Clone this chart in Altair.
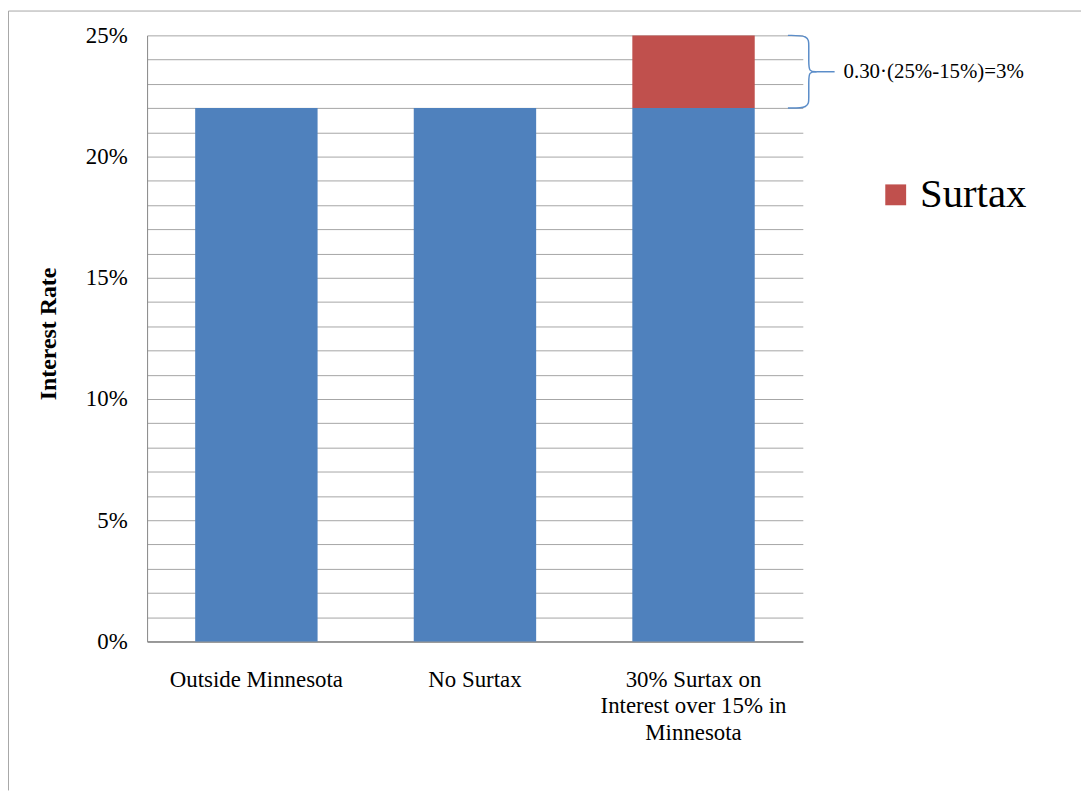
import altair as alt
import pandas as pd

# ---- data ----
categories = ["Outside Minnesota", "No Surtax", "30% Surtax on|Interest over 15% in|Minnesota"]
base_rate = [22, 22, 22]
surtax = [0, 0, 3]
y_ticks = list(range(0, 26))
annotation_text = "0.30·(25%-15%)=3%"
annotation_y = 23.5

# brace shape (x offsets in px-like units, y in % units)
brace_part = ["top"] * 6 + ["bottom"] * 6 + ["tip"] * 2
brace_x = [0, 21, 21, 21, 21, 29, 0, 21, 21, 21, 21, 29, 29, 47]
brace_y = [25.0, 25.0, 24.6, 23.9, 23.5, 23.5, 22.0, 22.0, 22.4, 23.1, 23.5, 23.5, 23.5, 23.5]

BLUE = "#4F81BD"
RED = "#C0504D"
FONT = "Liberation Serif"

rows = []
for c, b, s in zip(categories, base_rate, surtax):
    rows.append({"cat": c, "seg": "Base", "start": 0, "end": b})
    if s > 0:
        rows.append({"cat": c, "seg": "Surtax", "start": b, "end": b + s})
df = pd.DataFrame(rows)

brace_df = pd.DataFrame({
    "part": brace_part,
    "bx": brace_x,
    "by": brace_y,
    "ord": list(range(len(brace_x))),
})

yscale = alt.Scale(domain=[0, 25], nice=False, zero=True)

bars = alt.Chart(df).mark_bar().encode(
    x=alt.X(
        "cat:N",
        sort=categories,
        scale=alt.Scale(paddingInner=0.44, paddingOuter=0.22),
        axis=alt.Axis(
            title=None,
            labelAngle=0,
            labelExpr="split(datum.label, '|')",
            labelFont=FONT,
            labelFontSize=23,
            labelColor="#000000",
            labelLineHeight=27,
            labelPadding=27,
            labelBaseline="top",
            labelLimit=400,
            labelOverlap=False,
            ticks=False,
            domainColor="#868686",
            domainWidth=1.5,
            grid=False,
        ),
    ),
    y=alt.Y(
        "start:Q",
        scale=yscale,
        axis=alt.Axis(
            title="Interest Rate",
            values=y_ticks,
            labelExpr="datum.value % 5 == 0 ? datum.value + '%' : ''",
            labelFont=FONT,
            labelFontSize=23,
            labelColor="#000000",
            labelPadding=20,
            labelOverlap=False,
            ticks=False,
            grid=True,
            gridColor="#a5a5a5",
            gridWidth=1,
            domainColor="#868686",
            domainWidth=1,
            titleFont=FONT,
            titleFontSize=24,
            titleFontWeight="bold",
            titleColor="#000000",
            titleAngle=270,
            titleX=-99,
            titleY=300,
            titleAlign="center",
            titleBaseline="middle",
        ),
    ),
    y2="end:Q",
    color=alt.Color(
        "seg:N",
        scale=alt.Scale(domain=["Base", "Surtax"], range=[BLUE, RED]),
        legend=alt.Legend(
            values=["Surtax"],
            title=None,
            orient="none",
            legendX=733,
            legendY=140,
            symbolType="square",
            symbolSize=441,
            symbolStrokeWidth=0,
            symbolOpacity=1,
            labelFont=FONT,
            labelFontSize=41,
            labelColor="#000000",
            labelOffset=4,
        ),
    ),
)

brace = alt.Chart(brace_df).mark_line(
    interpolate="basis", color="#5b8dc9", strokeWidth=1.5
).encode(
    x=alt.X("bx:Q", scale=alt.Scale(domain=[0, 47], range=[645, 692]), axis=None),
    y=alt.Y("by:Q", scale=yscale, axis=None),
    detail="part:N",
    order="ord:Q",
)

note = alt.Chart(pd.DataFrame({"t": [annotation_text], "y": [annotation_y]})).mark_text(
    align="left", baseline="middle", font=FONT, fontSize=21, color="#000000"
).encode(
    x=alt.value(701),
    y=alt.Y("y:Q", scale=yscale, axis=None),
    text="t:N",
)

frame_df = pd.DataFrame({"a": [0]})
frame_left = alt.Chart(frame_df).mark_rule(color="#a6a6a6", strokeWidth=1).encode(
    x=alt.value(-139.5), y=alt.value(-24.5), y2=alt.value(760)
)
frame_top = alt.Chart(frame_df).mark_rule(color="#a6a6a6", strokeWidth=1).encode(
    x=alt.value(-139.5), x2=alt.value(940), y=alt.value(-24.5)
)

chart = alt.layer(frame_left, frame_top, bars, brace, note).resolve_scale(
    x="independent", y="shared"
).resolve_axis(
    x="independent", y="independent"
).properties(
    width=660,
    height=610,
    autosize=alt.AutoSizeParams(type="none"),
    padding={"left": 140, "top": 25, "right": 280, "bottom": 148},
    background="#ffffff",
).configure_view(stroke=None)

chart.save("out.html", embed_options={"renderer": "svg", "actions": False})
